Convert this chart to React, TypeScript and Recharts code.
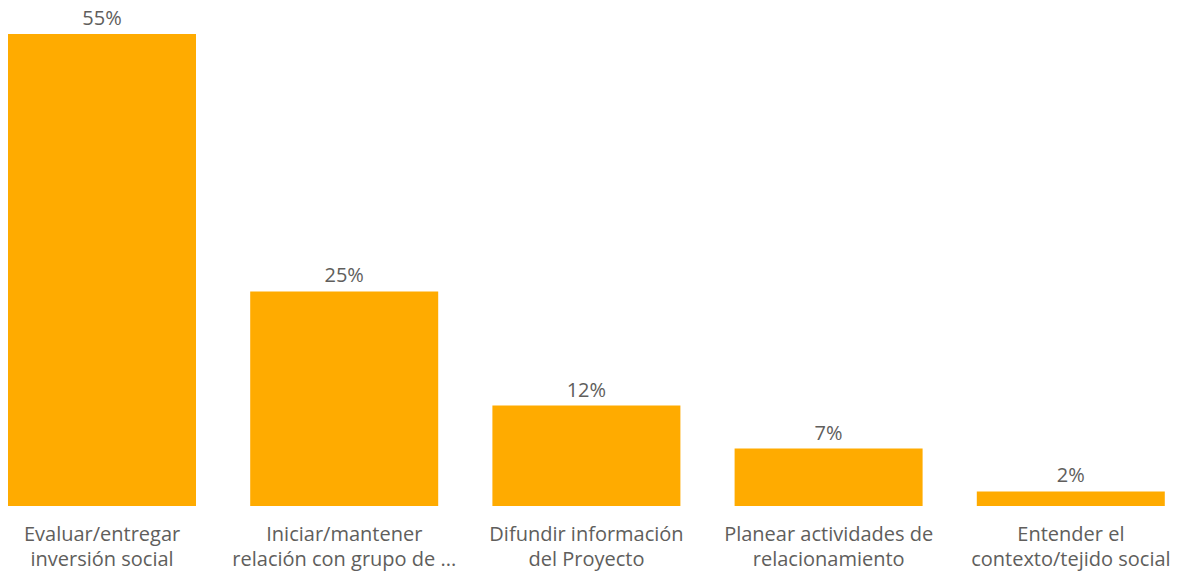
import React from "react";
import { BarChart, Bar, XAxis, YAxis, LabelList } from "recharts";

const categories = [
  "Evaluar/entregar\ninversión social",
  "Iniciar/mantener\nrelación con grupo de ...",
  "Difundir información\ndel Proyecto",
  "Planear actividades de\nrelacionamiento",
  "Entender el\ncontexto/tejido social",
];
const values = [55, 25, 11.7, 6.7, 1.7];

const data = categories.map((c, i) => ({ name: c, value: values[i] }));

const FONT = "'Open Sans', 'Noto Sans', sans-serif";
const TEXT = "#605E5C";
const BAR = "#FFAB00";

const Tick = (props: any) => {
  const { x, y, payload } = props;
  const lines = String(payload.value).split("\n");
  return (
    <text x={x} y={y} textAnchor="middle" fill={TEXT} fontFamily={FONT} fontSize={20}>
      {lines.map((l, i) => (
        <tspan key={i} x={x} dy={i === 0 ? 27 : 25}>
          {l}
        </tspan>
      ))}
    </text>
  );
};

export default function App() {
  return (
    <div
      style={{
        position: "absolute",
        left: 0,
        top: 0,
        width: 1181,
        height: 573,
        overflow: "hidden",
        background: "#fff",
      }}
    >
      <div style={{ marginLeft: -19 }}>
        <BarChart
          width={1211}
          height={573}
          data={data}
          margin={{ top: 34, right: 0, left: 0, bottom: 0 }}
          barCategoryGap={27}
        >
          <XAxis
            dataKey="name"
            axisLine={false}
            tickLine={false}
            height={67}
            interval={0}
            tick={<Tick />}
          />
          <YAxis hide domain={[0, 55]} />
          <Bar dataKey="value" fill={BAR} isAnimationActive={false}>
            <LabelList
              dataKey="value"
              position="top"
              offset={9}
              formatter={(v: any) => `${Math.round(Number(v))}%`}
              fill={TEXT}
              fontFamily={FONT}
              fontSize={20}
            />
          </Bar>
        </BarChart>
      </div>
    </div>
  );
}
